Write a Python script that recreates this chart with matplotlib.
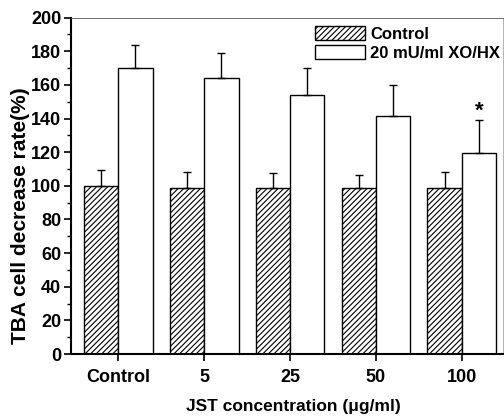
import matplotlib.pyplot as plt
import numpy as np
from matplotlib.ticker import MultipleLocator

plt.rcParams['font.family'] = ['Liberation Sans', 'DejaVu Sans']
plt.rcParams['font.weight'] = 'bold'
plt.rcParams['hatch.linewidth'] = 0.8

# data
groups = ['Control', '5', '25', '50', '100']
control_mean = [100, 99, 99, 99, 98.5]
control_err = [9.5, 9, 8.5, 7.5, 9.5]
xo_mean = [170, 164, 154, 141.5, 119.5]
xo_err = [14, 15, 16, 18.5, 19.5]
star_group = 4

x = np.arange(len(groups))
w = 0.4

fig = plt.figure(figsize=(5.04, 4.19), dpi=100)
ax = fig.add_axes([0.141, 0.155, 0.857, 0.803])

ax.bar(x - w / 2, control_mean, w, color='white', edgecolor='black',
       hatch='//////', linewidth=1.0, label='Control')
ax.bar(x + w / 2, xo_mean, w, color='white', edgecolor='black',
       linewidth=1.0, label='20 mU/ml XO/HX')

ax.errorbar(x - w / 2, control_mean, yerr=[np.zeros(len(x)), control_err],
            fmt='none', ecolor='black', elinewidth=1.0, capsize=3, capthick=1.0)
ax.errorbar(x + w / 2, xo_mean, yerr=[np.zeros(len(x)), xo_err],
            fmt='none', ecolor='black', elinewidth=1.0, capsize=3, capthick=1.0)

ax.text(x[star_group] + w / 2, xo_mean[star_group] + xo_err[star_group] - 1, '*',
        ha='center', va='bottom', fontsize=16, fontweight='bold')

ax.set_xlim(-0.55, 4.48)
ax.set_ylim(0, 200)
ax.set_xticks(x)
ax.set_xticklabels(groups)
ax.yaxis.set_major_locator(MultipleLocator(20))
ax.yaxis.set_minor_locator(MultipleLocator(10))
ax.tick_params(axis='both', labelsize=13, width=1.2, length=5, direction='out')
ax.tick_params(axis='y', which='minor', length=3, width=1.0)
ax.tick_params(axis='y', pad=2)
ax.tick_params(axis='x', pad=6)

ax.spines['left'].set_linewidth(1.5)
ax.spines['bottom'].set_linewidth(1.5)
ax.spines['top'].set_linewidth(0.6)
ax.spines['top'].set_color('#555555')
ax.spines['right'].set_linewidth(0.6)
ax.spines['right'].set_color('#aaaaaa')

ax.set_ylabel('TBA cell decrease rate(%)', fontsize=15, fontweight='bold')
ax.yaxis.set_label_coords(-0.095, 0.41)
ax.set_xlabel('JST concentration (μg/ml)', fontsize=12.5, fontweight='bold')
ax.xaxis.set_label_coords(0.515, -0.135)

ax.legend(loc='upper right', bbox_to_anchor=(1.02, 1.01), frameon=False,
          fontsize=12, handlelength=3.0, handleheight=0.9, handletextpad=0.3,
          labelspacing=0.2, borderaxespad=0.3)

plt.savefig('out.png', dpi=100)
